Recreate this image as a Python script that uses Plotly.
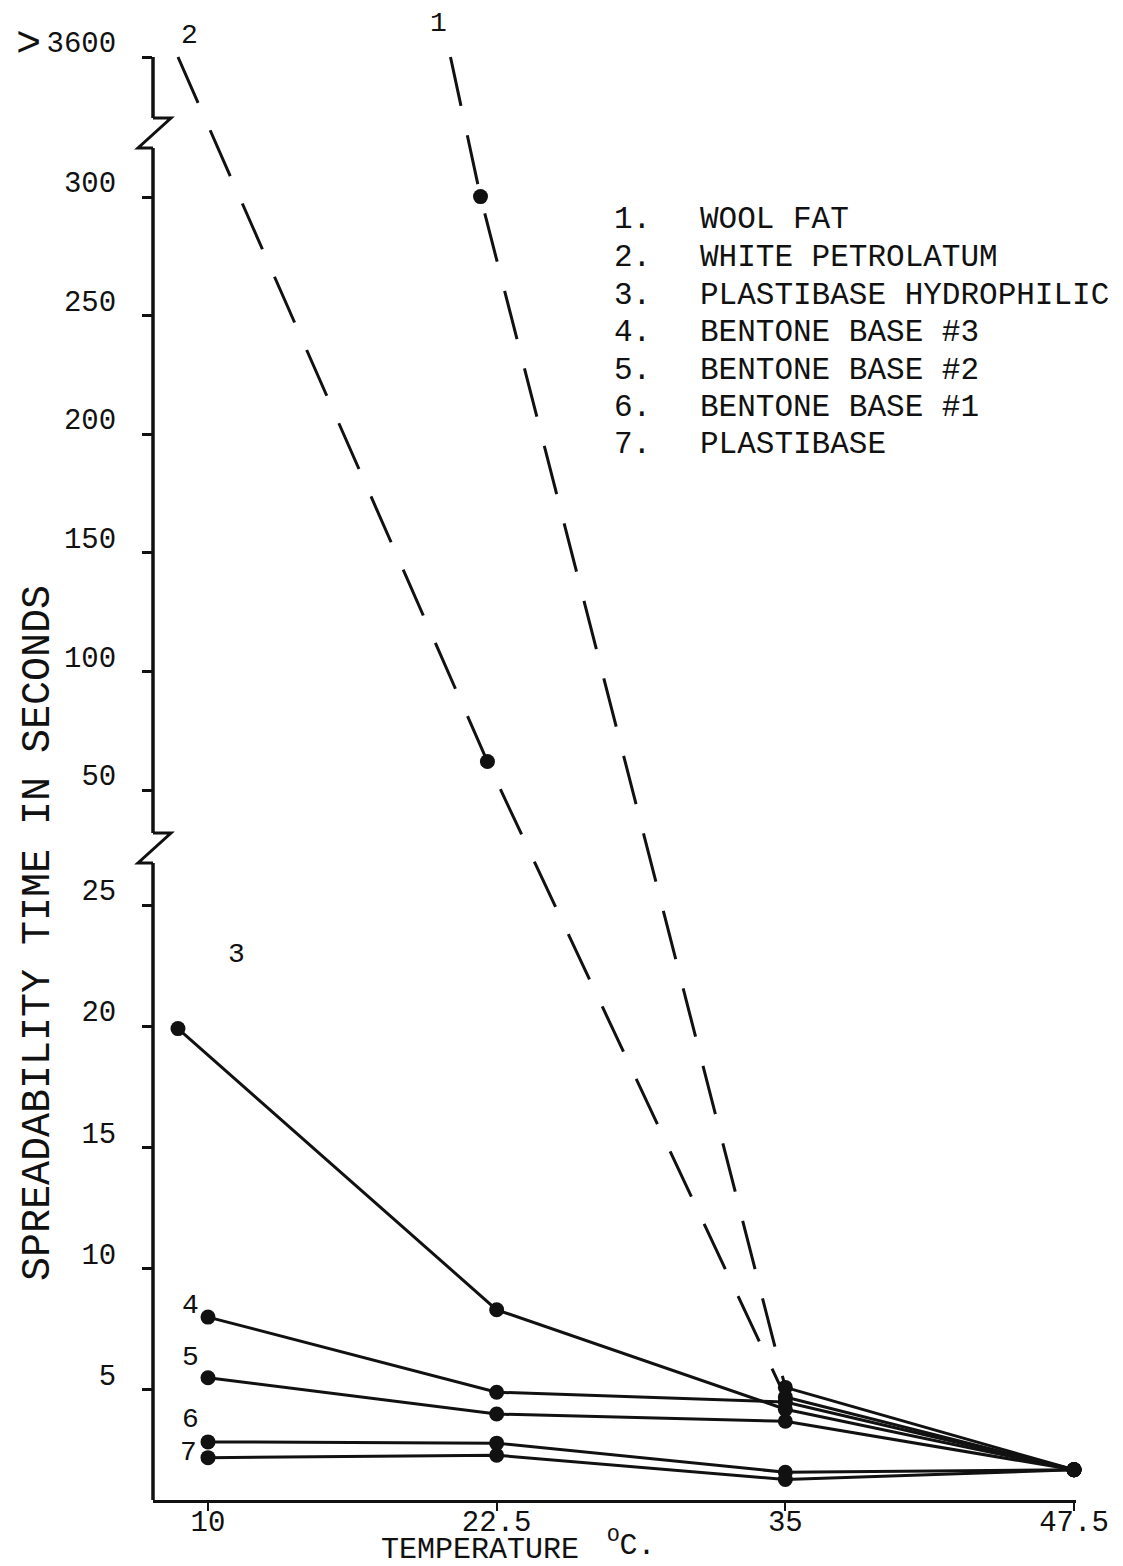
import numpy as np
import plotly.graph_objects as go

# ---------------- data ----------------
series_names = ["WOOL FAT", "WHITE PETROLATUM", "PLASTIBASE HYDROPHILIC",
                "BENTONE BASE #3", "BENTONE BASE #2", "BENTONE BASE #1", "PLASTIBASE"]
series_ids = ["1", "2", "3", "4", "5", "6", "7"]

# temperatures (°C) as drawn for each series
x1 = [20.5, 21.8, 35, 47.5]
x2 = [8.7, 22.1, 35, 47.5]
x3 = [8.7, 22.5, 35, 47.5]
x4 = [10, 22.5, 35, 47.5]
x5 = [10, 22.5, 35, 47.5]
x6 = [10, 22.5, 35, 47.5]
x7 = [10, 22.5, 35, 47.5]

# spreadability time (s); 3600 stands for ">3600"
y1 = [3600, 309, 5.1, 1.7]
y2 = [3600, 62, 4.7, 1.7]
y3 = [19.9, 8.3, 4.2, 1.7]
y4 = [8.0, 4.9, 4.5, 1.7]
y5 = [5.5, 4.0, 3.7, 1.7]
y6 = [2.85, 2.8, 1.6, 1.7]
y7 = [2.2, 2.3, 1.3, 1.7]

x_ticks = [10, 22.5, 35, 47.5]
x_ticktext = ["10", "22.5", "35", "47.5"]
y_ticks = [5, 10, 15, 20, 25, 50, 100, 150, 200, 250, 300, 3600]
y_ticktext = ["5", "10", "15", "20", "25", "50", "100", "150", "200", "250", "300", "3600"]

# ---------------- broken-axis scale ----------------
# piecewise-linear scale: segments 0-25, 50-300 and the ">3600" mark
scale_vals = [0, 25, 50, 300, 3600]
scale_pos = [0, 606, 721, 1314, 1454]


def sc(v):
    return np.interp(np.asarray(v, dtype=float), scale_vals, scale_pos)


FONT = "Liberation Mono, Courier New, monospace"
BLACK = "#111111"

fig = go.Figure()

LW = 3
MS = 15

# dashed series 1 and 2 (up to 35 °C), then solid to 47.5
for xs, ys in [(x1, y1), (x2, y2)]:
    fig.add_trace(go.Scatter(x=xs[:3], y=sc(ys[:3]), mode="lines",
                             line=dict(color=BLACK, width=LW, dash="50px,30px"),
                             cliponaxis=False, showlegend=False, hoverinfo="skip"))
    fig.add_trace(go.Scatter(x=xs[2:], y=sc(ys[2:]), mode="lines",
                             line=dict(color=BLACK, width=LW),
                             cliponaxis=False, showlegend=False, hoverinfo="skip"))
    fig.add_trace(go.Scatter(x=xs[1:], y=sc(ys[1:]), mode="markers",
                             marker=dict(color=BLACK, size=MS),
                             cliponaxis=False, showlegend=False))

for xs, ys in [(x3, y3), (x4, y4), (x5, y5), (x6, y6), (x7, y7)]:
    fig.add_trace(go.Scatter(x=xs, y=sc(ys), mode="lines+markers",
                             line=dict(color=BLACK, width=LW),
                             marker=dict(color=BLACK, size=MS),
                             cliponaxis=False, showlegend=False))

# ---------------- axes ----------------
W, H = 1123, 1566
ML, MR, MT, MB = 153, 47, 0, 66
PW = W - ML - MR
PH = H - MT - MB
PXDEG = (1074 - 208) / 37.5
xr0 = 10 - (208 - ML) / PXDEG
xr1 = 47.5 + ((W - MR) - 1074) / PXDEG

fig.update_xaxes(range=[xr0, xr1], tickvals=x_ticks, ticktext=x_ticktext,
                 automargin=False,
                 showgrid=False, zeroline=False, showline=True,
                 linecolor=BLACK, linewidth=3, ticks="outside", ticklen=8,
                 tickwidth=2, tickcolor=BLACK, ticklabelstandoff=-15,
                 tickfont=dict(family=FONT, size=29, color=BLACK))
fig.update_yaxes(range=[11, 1511], tickvals=list(sc(y_ticks)), ticktext=y_ticktext,
                 automargin=False,
                 showgrid=False, zeroline=False, showline=False,
                 ticks="outside", ticklen=10, tickwidth=2.5, tickcolor=BLACK,
                 ticklabelshift=-15, ticklabelstandoff=20,
                 tickfont=dict(family=FONT, size=29, color=BLACK))

# y-axis line with breaks (paper x = 0 is the axis)
px = 1.0 / PW
shapes = []
seg = [(sc(3600), sc(3600) - 61), (sc(3600) - 91, sc(25) + 72), (sc(25) + 42, 11)]
for a, b in seg:
    shapes.append(dict(type="line", xref="paper", yref="y", x0=0, x1=0, y0=a, y1=b,
                       line=dict(color=BLACK, width=3.5)))
for top in [sc(3600) - 61, sc(25) + 72]:
    path = (f"M 0 {top} L {18*px} {top} L {-15*px} {top-30} L 0 {top-30}")
    shapes.append(dict(type="path", xref="paper", yref="y", path=path,
                       line=dict(color=BLACK, width=3)))
fig.update_layout(shapes=shapes)

# ---------------- annotations ----------------
ann = []
# ">" of the ">3600" label
ann.append(dict(x=(28 - ML) / PW, y=(PH - 45) / PH, xref="paper", yref="paper",
                text="&gt;", showarrow=False, xanchor="center", yanchor="middle",
                font=dict(family=FONT, size=42, color=BLACK)))

# series number labels near their lines
lab_pos = [(x1[0], y1[0], -12, 34), (x2[0], y2[0], 12, 22), (x3[0], y3[0], 59, 74),
           (x4[0], y4[0], -18, 12), (x5[0], y5[0], -18, 20), (x6[0], y6[0], -18, 22),
           (x7[0], y7[0], -20, 5)]
for sid, (xx, yy, dx, dy) in zip(series_ids, lab_pos):
    ann.append(dict(x=xx, y=float(sc(yy)), xref="x", yref="y", text=sid, showarrow=False,
                    xshift=dx, yshift=dy, font=dict(family=FONT, size=28, color=BLACK)))

# legend list
leg_x_num = (612 - ML) / PW
leg_x_txt = (698 - ML) / PW
for i, (sid, name) in enumerate(zip(series_ids, series_names)):
    yy = (PH - (220 + 37.5 * i)) / PH
    ann.append(dict(x=leg_x_num, y=yy, xref="paper", yref="paper", text=sid + ".",
                    showarrow=False, xanchor="left", yanchor="middle",
                    font=dict(family=FONT, size=31, color=BLACK)))
    ann.append(dict(x=leg_x_txt, y=yy, xref="paper", yref="paper", text=name,
                    showarrow=False, xanchor="left", yanchor="middle",
                    font=dict(family=FONT, size=31, color=BLACK)))

# axis titles
ann.append(dict(x=(38 - ML) / PW, y=(PH - 933) / PH, xref="paper", yref="paper",
                text="SPREADABILITY TIME IN SECONDS", textangle=-90, showarrow=False,
                xanchor="center", yanchor="middle",
                font=dict(family=FONT, size=40, color=BLACK)))
ann.append(dict(x=(480 - ML) / PW, y=(PH - 1550) / PH, xref="paper", yref="paper",
                text="TEMPERATURE", showarrow=False, xanchor="center", yanchor="middle",
                borderpad=0, font=dict(family=FONT, size=30, color=BLACK)))
ann.append(dict(x=(606 - ML) / PW, y=(PH - 1543) / PH, xref="paper", yref="paper",
                text="<sup>O</sup>C.", showarrow=False, xanchor="left", yanchor="middle",
                borderpad=0, font=dict(family=FONT, size=30, color=BLACK)))
fig.update_layout(annotations=ann)

fig.update_layout(width=W, height=H, margin=dict(l=ML, r=MR, t=MT, b=MB, autoexpand=False),
                  paper_bgcolor="white", plot_bgcolor="white", showlegend=False)

fig.write_html("out.html", config={"displayModeBar": False},
               post_script="document.body.style.margin='0';document.body.style.padding='0';")
